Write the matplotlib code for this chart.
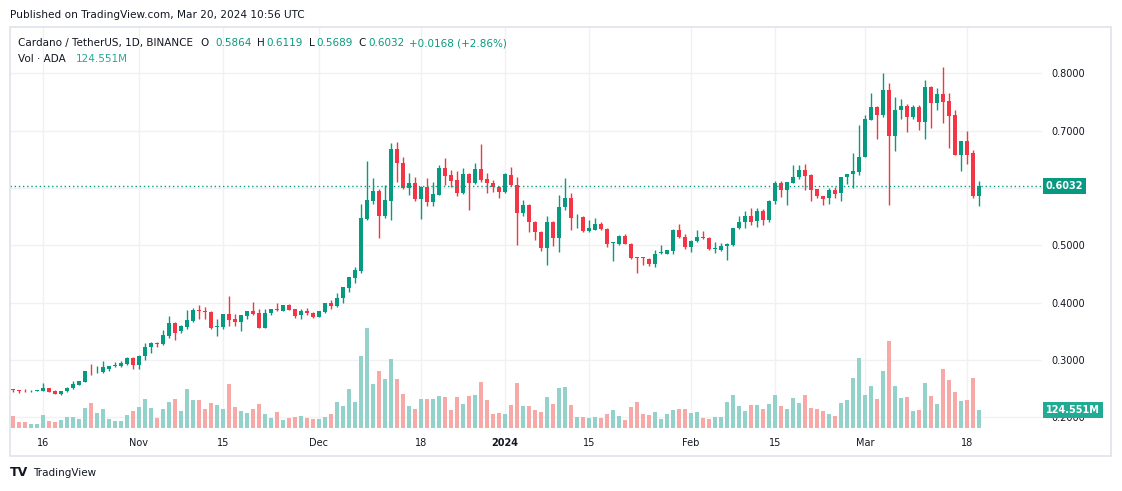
import matplotlib.pyplot as plt
from matplotlib.patches import Rectangle
import numpy as np
import pandas as pd

# ADA/USDT daily, 2023-10-11 .. 2024-03-20
dates = pd.date_range("2023-10-11", "2024-03-20", freq="D")

opens = [
    0.2488, 0.2471, 0.2453, 0.2447, 0.2459, 0.2459, 0.2506, 0.2453, 0.2400, 0.2447,
    0.2500, 0.2559, 0.2618, 0.2812, 0.2800, 0.2794, 0.2841, 0.2894, 0.2888, 0.2929,
    0.3035, 0.2918, 0.3059, 0.3218, 0.3300, 0.3271, 0.3424, 0.3645, 0.3505, 0.3580,
    0.3680, 0.3866, 0.3854, 0.3843, 0.3580, 0.3575, 0.3796, 0.3709, 0.3662, 0.3767,
    0.3848, 0.3814, 0.3563, 0.3814, 0.3883, 0.3854, 0.3953, 0.3883, 0.3779, 0.3860,
    0.3825, 0.3755, 0.3843, 0.3988, 0.3942, 0.4076, 0.4254, 0.4428, 0.4543, 0.5457,
    0.5780, 0.5948, 0.5503, 0.5780, 0.6676, 0.6428, 0.5994, 0.6087, 0.5798, 0.6017,
    0.5746, 0.5884, 0.6347, 0.6225, 0.6139, 0.5908, 0.6243, 0.6081, 0.6324, 0.6150,
    0.6081, 0.6012, 0.5936, 0.6225, 0.6052, 0.5561, 0.5705, 0.5410, 0.5237, 0.4948,
    0.5410, 0.5121, 0.5665, 0.5821, 0.5486, 0.5491, 0.5249, 0.5272, 0.5364, 0.5283,
    0.5040, 0.5029, 0.5168, 0.5029, 0.4780, 0.4786, 0.4763, 0.4665, 0.4867, 0.4855,
    0.4896, 0.5272, 0.5145, 0.4965, 0.5069, 0.5145, 0.5133, 0.4936, 0.4925, 0.4983,
    0.5012, 0.5301, 0.5399, 0.5514, 0.5416, 0.5601, 0.5434, 0.5763, 0.6081, 0.5965,
    0.6092, 0.6185, 0.6312, 0.6220, 0.5977, 0.5861, 0.5821, 0.5965, 0.5908, 0.6185,
    0.6243, 0.6279, 0.6547, 0.7186, 0.7419, 0.7273, 0.7709, 0.6907, 0.7360, 0.7430,
    0.7233, 0.7419, 0.7157, 0.7767, 0.7477, 0.7640, 0.7517, 0.7273, 0.6576, 0.6820,
    0.6605, 0.5864]

highs = [
    0.2490, 0.2474, 0.2488, 0.2471, 0.2476, 0.2594, 0.2512, 0.2471, 0.2453, 0.2529,
    0.2629, 0.2635, 0.2812, 0.2929, 0.2894, 0.2982, 0.2900, 0.2959, 0.2971, 0.3041,
    0.3047, 0.3076, 0.3300, 0.3306, 0.3306, 0.3512, 0.3759, 0.3665, 0.3600, 0.3872,
    0.3907, 0.3953, 0.3924, 0.3855, 0.3720, 0.3800, 0.4117, 0.3796, 0.3790, 0.3855,
    0.4012, 0.3895, 0.3884, 0.3890, 0.3988, 0.3960, 0.3977, 0.3890, 0.3895, 0.3907,
    0.3830, 0.3855, 0.3994, 0.4047, 0.4163, 0.4272, 0.4445, 0.4624, 0.5723, 0.6474,
    0.6173, 0.5988, 0.6052, 0.6775, 0.6798, 0.6532, 0.6266, 0.6185, 0.6035, 0.6173,
    0.6110, 0.6405, 0.6520, 0.6312, 0.6289, 0.6347, 0.6254, 0.6428, 0.6763, 0.6254,
    0.6139, 0.6040, 0.6260, 0.6358, 0.6185, 0.5792, 0.5723, 0.5428, 0.5254, 0.5503,
    0.5428, 0.5879, 0.6173, 0.5908, 0.5549, 0.5514, 0.5434, 0.5474, 0.5399, 0.5295,
    0.5064, 0.5179, 0.5202, 0.5035, 0.4786, 0.4792, 0.4775, 0.4913, 0.5012, 0.4919,
    0.5283, 0.5376, 0.5202, 0.5087, 0.5260, 0.5254, 0.5139, 0.5058, 0.5040, 0.5035,
    0.5306, 0.5503, 0.5590, 0.5647, 0.5653, 0.5630, 0.5786, 0.6127, 0.6127, 0.6104,
    0.6399, 0.6399, 0.6416, 0.6243, 0.5983, 0.5867, 0.5994, 0.6023, 0.6197, 0.6249,
    0.6601, 0.7099, 0.7273, 0.7651, 0.7430, 0.8000, 0.7837, 0.7581, 0.7547, 0.7465,
    0.7448, 0.7453, 0.7884, 0.7779, 0.7738, 0.8116, 0.7651, 0.7360, 0.6826, 0.7000,
    0.6663, 0.6119]

lows = [
    0.2441, 0.2424, 0.2441, 0.2435, 0.2453, 0.2453, 0.2435, 0.2400, 0.2388, 0.2441,
    0.2488, 0.2553, 0.2612, 0.2729, 0.2765, 0.2776, 0.2812, 0.2876, 0.2871, 0.2918,
    0.2847, 0.2847, 0.2988, 0.3112, 0.3218, 0.3259, 0.3376, 0.3350, 0.3475, 0.3534,
    0.3660, 0.3720, 0.3709, 0.3534, 0.3417, 0.3534, 0.3592, 0.3592, 0.3505, 0.3709,
    0.3779, 0.3555, 0.3555, 0.3790, 0.3849, 0.3848, 0.3866, 0.3738, 0.3709, 0.3790,
    0.3732, 0.3744, 0.3820, 0.3895, 0.3930, 0.4000, 0.4185, 0.4335, 0.4520, 0.5445,
    0.5711, 0.5121, 0.5480, 0.5434, 0.6110, 0.5983, 0.5873, 0.5780, 0.5457, 0.5676,
    0.5688, 0.5873, 0.6058, 0.6023, 0.5850, 0.5890, 0.5607, 0.6070, 0.6110, 0.5919,
    0.5936, 0.5821, 0.5908, 0.6040, 0.5012, 0.5503, 0.5225, 0.5087, 0.4896, 0.4647,
    0.4983, 0.4879, 0.5618, 0.5272, 0.5306, 0.5237, 0.5237, 0.5260, 0.5272, 0.4960,
    0.4723, 0.5012, 0.5017, 0.4763, 0.4509, 0.4647, 0.4636, 0.4624, 0.4855, 0.4844,
    0.4850, 0.5133, 0.4942, 0.4879, 0.5052, 0.5110, 0.4925, 0.4867, 0.4896, 0.4740,
    0.4983, 0.5283, 0.5295, 0.5358, 0.5318, 0.5353, 0.5399, 0.5723, 0.5838, 0.5705,
    0.6081, 0.6150, 0.5965, 0.5763, 0.5821, 0.5705, 0.5723, 0.5821, 0.5763, 0.6075,
    0.5994, 0.6227, 0.6535, 0.7180, 0.6855, 0.7233, 0.5703, 0.6651, 0.7198, 0.6983,
    0.7198, 0.7012, 0.6855, 0.7052, 0.7360, 0.7140, 0.6703, 0.6570, 0.6297, 0.6419,
    0.5820, 0.5689]

closes = [
    0.2476, 0.2447, 0.2447, 0.2459, 0.2471, 0.2506, 0.2441, 0.2406, 0.2447, 0.2506,
    0.2576, 0.2629, 0.2806, 0.2800, 0.2812, 0.2876, 0.2894, 0.2912, 0.2941, 0.3035,
    0.2918, 0.3071, 0.3224, 0.3300, 0.3282, 0.3429, 0.3635, 0.3460, 0.3592, 0.3697,
    0.3866, 0.3854, 0.3843, 0.3551, 0.3586, 0.3796, 0.3697, 0.3662, 0.3779, 0.3848,
    0.3802, 0.3563, 0.3814, 0.3883, 0.3872, 0.3953, 0.3872, 0.3767, 0.3860, 0.3814,
    0.3749, 0.3848, 0.3988, 0.3942, 0.4076, 0.4266, 0.4439, 0.4566, 0.5468, 0.5792,
    0.5948, 0.5503, 0.5792, 0.6676, 0.6428, 0.5994, 0.6087, 0.5798, 0.6017, 0.5746,
    0.5896, 0.6347, 0.6214, 0.6127, 0.5908, 0.6243, 0.6081, 0.6324, 0.6139, 0.6081,
    0.6012, 0.5936, 0.6237, 0.6052, 0.5561, 0.5705, 0.5399, 0.5237, 0.4948, 0.5410,
    0.5121, 0.5665, 0.5821, 0.5468, 0.5491, 0.5249, 0.5295, 0.5364, 0.5283, 0.5017,
    0.5052, 0.5168, 0.5029, 0.4775, 0.4775, 0.4780, 0.4665, 0.4838, 0.4879, 0.4908,
    0.5272, 0.5139, 0.4965, 0.5081, 0.5145, 0.5121, 0.4931, 0.4942, 0.4994, 0.5023,
    0.5301, 0.5410, 0.5514, 0.5399, 0.5601, 0.5434, 0.5775, 0.6092, 0.5965, 0.6098,
    0.6197, 0.6312, 0.6208, 0.5965, 0.5850, 0.5815, 0.5965, 0.5902, 0.6185, 0.6243,
    0.6295, 0.6547, 0.7198, 0.7419, 0.7273, 0.7709, 0.6907, 0.7360, 0.7430, 0.7233,
    0.7419, 0.7157, 0.7767, 0.7477, 0.7640, 0.7506, 0.7262, 0.6576, 0.6820, 0.6576,
    0.5864, 0.6032]

# volume in millions of ADA
volumes = [
    83.0, 41.5, 41.5, 27.7, 27.7, 90.0, 48.4, 41.5, 55.3, 76.1,
    76.1, 62.3, 138.4, 173.0, 103.8, 131.4, 62.3, 48.4, 48.4, 90.0,
    117.6, 145.3, 200.6, 138.4, 69.2, 131.4, 179.9, 200.6, 117.6, 269.8,
    193.7, 193.7, 131.4, 173.0, 159.1, 131.4, 304.4, 145.3, 117.6, 103.8,
    131.4, 166.0, 96.9, 69.2, 110.7, 55.3, 69.2, 76.1, 83.0, 69.2,
    62.3, 62.3, 76.1, 96.9, 179.9, 152.2, 269.8, 179.9, 498.1, 691.8,
    304.4, 394.3, 339.0, 477.3, 339.0, 235.2, 152.2, 131.4, 200.6, 200.6,
    200.6, 221.4, 214.5, 124.5, 214.5, 166.0, 221.4, 228.3, 318.2, 193.7,
    96.9, 103.8, 96.9, 159.1, 311.3, 152.2, 152.2, 124.5, 110.7, 214.5,
    166.0, 276.7, 283.6, 159.1, 76.1, 76.1, 69.2, 76.1, 69.2, 96.9,
    124.5, 83.0, 55.3, 145.3, 179.9, 96.9, 90.0, 110.7, 62.3, 96.9,
    124.5, 131.4, 131.4, 103.8, 110.7, 69.2, 62.3, 76.1, 76.1, 179.9,
    228.3, 152.2, 117.6, 159.1, 159.1, 131.4, 166.0, 228.3, 152.2, 131.4,
    207.5, 173.0, 228.3, 138.4, 131.4, 117.6, 96.9, 83.0, 173.0, 193.7,
    345.9, 484.3, 228.3, 290.6, 200.6, 394.3, 601.9, 290.6, 207.5, 214.5,
    117.6, 124.5, 311.3, 221.4, 166.0, 408.2, 332.1, 249.0, 186.8, 193.7,
    345.9, 124.551]

tick_dates = ["2023-10-16", "2023-11-01", "2023-11-15", "2023-12-01", "2023-12-18",
              "2024-01-01", "2024-01-15", "2024-02-01", "2024-02-15", "2024-03-01",
              "2024-03-18"]
tick_labels = ["16", "Nov", "15", "Dec", "18", "2024", "15", "Feb", "15", "Mar", "18"]
price_ticks = [0.2, 0.3, 0.4, 0.5, 0.6, 0.7, 0.8]

GREEN = "#089981"
RED = "#F23645"
VGREEN = "#92d2cb"
VRED = "#f7a9a8"
TXT = "#131722"

W, H = 1122, 491
fig = plt.figure(figsize=(W / 100, H / 100), dpi=100)
plt.rcParams['font.family'] = ['DejaVu Sans']

def fx(px):
    return px / W

def fy(py):
    return 1 - py / H

# plot area in pixels
L, R, T, B = 10, 1042, 27, 428
rect = [fx(L), fy(B), (R - L) / W, (B - T) / H]
ax = fig.add_axes(rect)                          # grid + scales
axv = fig.add_axes(rect, sharex=ax)              # volume
axp = fig.add_axes(rect, sharex=ax, sharey=ax)   # candles
for a in (axv, axp):
    a.patch.set_visible(False)
    a.axis("off")

o = np.array(opens)
h = np.array(highs)
l = np.array(lows)
c = np.array(closes)
v = np.array(volumes)
x = np.arange(len(dates))
up = c >= o

# volume bars
axv.bar(x, v, width=0.8, color=np.where(up, VGREEN, VRED), linewidth=0)
axv.set_ylim(0, 2775)

# candles
col = np.where(up, GREEN, RED)
axp.vlines(x, l, h, colors=col, linewidth=1)
axp.bar(x, np.maximum(np.abs(c - o), 0.0012), bottom=np.minimum(o, c),
        width=0.72, color=col, linewidth=0)
axp.axhline(c[-1], color=GREEN, lw=1, ls=(0, (1, 2)))

# scales and grid
ax.set_xlim(-0.5, 171.5)
ax.set_ylim(0.1810, 0.8808)
tick_pos = dates.get_indexer(pd.to_datetime(tick_dates))
ax.set_xticks(tick_pos)
ax.set_xticklabels(tick_labels)
for t, lab in zip(ax.get_xticklabels(), tick_labels):
    if lab == "2024":
        t.set_fontweight("bold")
ax.set_yticks(price_ticks)
# 0.6000 sits under the last-price tag, so leave it blank
ax.set_yticklabels(["" if abs(p - c[-1]) < 0.02 else f"{p:.4f}" for p in price_ticks])
ax.yaxis.tick_right()
ax.tick_params(length=0, labelsize=7, colors=TXT)
ax.tick_params(axis="x", pad=7)
ax.tick_params(axis="y", pad=7)
ax.grid(color="#f0f1f4", lw=1)
for s in ax.spines.values():
    s.set_visible(False)

# last price / volume tags
axp.annotate(f"{c[-1]:.4f}", xy=(1.0, c[-1]), xycoords=("axes fraction", "data"),
             xytext=(4, 0), textcoords="offset pixels", ha="left", va="center",
             color="white", fontsize=7, fontweight="bold", annotation_clip=False,
             bbox=dict(boxstyle="square,pad=0.3", fc=GREEN, ec="none"))
axv.annotate(f"{v[-1]:.3f}M", xy=(1.0, v[-1]), xycoords=("axes fraction", "data"),
             xytext=(4, 0), textcoords="offset pixels", ha="left", va="center",
             color="white", fontsize=7, fontweight="bold", annotation_clip=False,
             bbox=dict(boxstyle="square,pad=0.3", fc="#22ab94", ec="none"))

# pane border
fig.add_artist(Rectangle((fx(10), fy(456)), (1111 - 10) / W, (456 - 27) / H,
                         transform=fig.transFigure, fill=False,
                         ec="#e0e3eb", lw=1.2))

# header texts
fig.text(fx(10), fy(15), "Published on TradingView.com, Mar 20, 2024 10:56 UTC",
         fontsize=7.6, color=TXT, va="center")
chg = c[-1] - c[-2]
legend = [
    (18, "Cardano / TetherUS, 1D, BINANCE", TXT),
    (200, "O", TXT), (215, f"{o[-1]:.4f}", GREEN),
    (257, "H", TXT), (266, f"{h[-1]:.4f}", GREEN),
    (309, "L", TXT), (316, f"{l[-1]:.4f}", GREEN),
    (358, "C", TXT), (368, f"{c[-1]:.4f}", GREEN),
    (409, f"+{chg:.4f} (+{chg / c[-2] * 100:.2f}%)", GREEN),
]
for px, s, cl in legend:
    fig.text(fx(px), fy(43), s, fontsize=7.5, color=cl, va="center")
fig.text(fx(18), fy(59), "Vol · ADA", fontsize=7.5, color=TXT, va="center")
fig.text(fx(76), fy(59), f"{v[-1]:.3f}M", fontsize=7.5, color="#22ab94", va="center")

# footer
fig.text(fx(10), fy(473), "TV", fontsize=9, fontweight="black", color=TXT, va="center")
fig.text(fx(33), fy(473), "TradingView", fontsize=7.5, color=TXT, va="center")

fig.savefig("out.png", dpi=100, facecolor="white")
